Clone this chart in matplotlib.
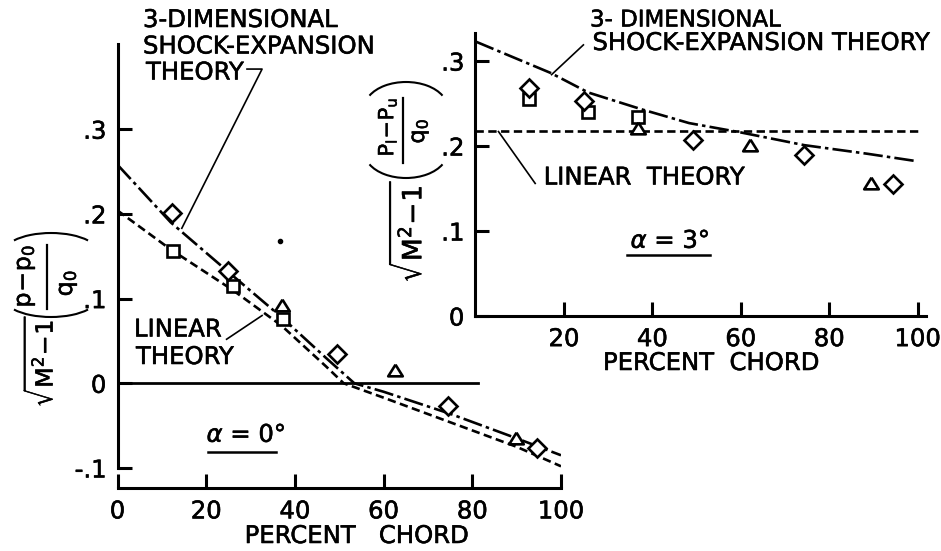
import matplotlib
matplotlib.use('Agg')
import matplotlib.pyplot as plt
import matplotlib.patheffects as pe
from matplotlib.patches import Arc

W, H = 941, 551
plt.rcParams['font.family'] = ['DejaVu Sans']
plt.rcParams['mathtext.fontset'] = 'dejavusans'
plt.rcParams['lines.scale_dashes'] = False

# ---------------- data: alpha = 0 deg (left panel) ----------------
l_shock_x = [0, 12, 26, 37, 47, 53.4, 60, 75, 90, 100]
l_shock_y = [0.258, 0.190, 0.127, 0.078, 0.030, 0.0, -0.010, -0.036, -0.065, -0.085]
l_lin_x = [0, 12, 26, 37, 47, 51, 60, 75, 90, 100]
l_lin_y = [0.204, 0.158, 0.110, 0.068, 0.020, 0.0, -0.017, -0.046, -0.075, -0.098]
l_dia_x = [12.3, 24.9, 49.6, 74.6, 94.6]
l_dia_y = [0.201, 0.132, 0.034, -0.027, -0.077]
l_sq_x = [12.5, 26.0, 37.3]
l_sq_y = [0.156, 0.115, 0.076]
l_tri_x = [37.1, 62.5, 89.8]
l_tri_y = [0.093, 0.016, -0.065]

# ---------------- data: alpha = 3 deg (right panel) ----------------
r_shock_x = [0, 17, 25.5, 37.7, 48.3, 60, 74.4, 88.5, 100]
r_shock_y = [0.323, 0.286, 0.263, 0.243, 0.227, 0.216, 0.201, 0.191, 0.182]
r_lin_x = [0, 100]
r_lin_y = [0.218, 0.218]
r_dia_x = [12.0, 24.6, 49.3, 74.4, 94.4]
r_dia_y = [0.268, 0.253, 0.207, 0.189, 0.155]
r_sq_x = [12.0, 25.5, 36.8]
r_sq_y = [0.255, 0.240, 0.234]
r_tri_x = [36.8, 62.1, 89.4]
r_tri_y = [0.221, 0.201, 0.156]

l_xticks = [0, 20, 40, 60, 80, 100]
l_yticks = [-0.1, 0, 0.1, 0.2, 0.3]
l_ytick_labels = ['-.1', '0', '.1', '.2', '.3']
r_xticks = [20, 40, 60, 80, 100]
r_yticks = [0, 0.1, 0.2, 0.3]
r_ytick_labels = ['0', '.1', '.2', '.3']

FS = 17.5
LW_AX = 2.2
LW = 1.9
tri = [(0, 0.8), (-1, -0.8), (1, -0.8), (0, 0.8)]
BOLD = [pe.withStroke(linewidth=0.4, foreground='black')]

fig = plt.figure(figsize=(W / 100, H / 100), dpi=100)


def fx(px):
    return px / W


def fy(py):
    return 1 - py / H


axL = fig.add_axes([fx(117.5), fy(488.3), 443.5 / W, (488.3 - 44.5) / H])
axR = fig.add_axes([fx(475.5), fy(316), 451 / W, 283 / H])

for ax in (axL, axR):
    ax.patch.set_alpha(0)
    for s in ('top', 'right'):
        ax.spines[s].set_visible(False)
    for s in ('left', 'bottom'):
        ax.spines[s].set_linewidth(LW_AX)
    ax.tick_params(direction='in', length=10, width=LW_AX, labelsize=FS, pad=8)


def draw(ax, sx, sy, lx, ly, dx, dy, qx, qy, tx, ty):
    ax.plot(lx, ly, color='black', lw=LW, dashes=(6, 3.2), zorder=2)
    ax.plot(sx, sy, color='black', lw=LW, dashes=(14, 3, 2.5, 3), zorder=2)
    mk = dict(linestyle='none', mfc='white', mec='black', mew=1.9, zorder=3)
    ax.plot(qx, qy, marker='s', ms=8, **mk)
    ax.plot(dx, dy, marker='D', ms=9, **mk)
    ax.plot(tx, ty, marker=tri, ms=10.5, **mk)


# ---- left panel
draw(axL, l_shock_x, l_shock_y, l_lin_x, l_lin_y, l_dia_x, l_dia_y,
     l_sq_x, l_sq_y, l_tri_x, l_tri_y)
axL.set_xlim(0, 100)
axL.set_ylim(-0.124, 0.40)
axL.spines['left'].set_bounds(-0.1, 0.40)
axL.set_xticks(l_xticks)
axL.set_yticks(l_yticks)
axL.set_yticklabels(l_ytick_labels)
axL.plot([0, 81.3], [0, 0], color='black', lw=LW_AX * 0.9, zorder=2)
axL.plot([36.6], [0.168], marker='o', ms=3, color='black', linestyle='none')

# leader lines (left)
axL.plot([29.2, 32.6, 14.5], [0.371, 0.371, 0.183], color='black', lw=1.2)
axL.plot([24.6, 32.6], [0.052, 0.080], color='black', lw=1.2)

# ---- right panel
draw(axR, r_shock_x, r_shock_y, r_lin_x, r_lin_y, r_dia_x, r_dia_y,
     r_sq_x, r_sq_y, r_tri_x, r_tri_y)
axR.set_xlim(0, 102)
axR.set_ylim(0, 0.333)
axR.set_xticks(r_xticks)
axR.set_yticks(r_yticks)
axR.set_yticklabels(r_ytick_labels)
axR.plot([24.4, 17.2], [0.319, 0.284], color='black', lw=1.2)
axR.plot([13.5, 5.2], [0.156, 0.217], color='black', lw=1.2)

for ax in (axL, axR):
    for lab in ax.get_xticklabels() + ax.get_yticklabels():
        lab.set_path_effects(BOLD)


# ---- texts (figure pixel positions)
def txt(xp, yp, s, ha='left', va='center', **kw):
    fig.text(fx(xp), fy(yp), s, ha=ha, va=va, fontsize=kw.pop('fs', FS),
             path_effects=BOLD, **kw)


def hline(x0, x1, y, lw=1.8):
    fig.add_artist(plt.Line2D([fx(x0), fx(x1)], [fy(y), fy(y)], color='black', lw=lw))


def vline(x, y0, y1, lw=1.6):
    fig.add_artist(plt.Line2D([fx(x), fx(x)], [fy(y0), fy(y1)], color='black', lw=lw))


def arc(cx, cy, w, h, t1, t2):
    fig.add_artist(Arc((fx(cx), fy(cy)), w / W, h / H, theta1=t1, theta2=t2,
                       transform=fig.transFigure, color='black', lw=1.5))


txt(143, 20, '3-DIMENSIONAL')
txt(143, 46.5, 'SHOCK-EXPANSION')
txt(146, 72.5, 'THEORY')
txt(134, 329.5, 'LINEAR')
txt(136, 357, 'THEORY')
txt(246, 435, r'$\alpha$ = 0°', ha='center')
hline(208, 276, 452)
txt(356.5, 536, 'PERCENT   CHORD', ha='center')

txt(590, 20, '3- DIMENSIONAL', fs=16.5)
txt(761, 43, 'SHOCK-EXPANSION THEORY', ha='center')
txt(644, 177.5, 'LINEAR  THEORY', ha='center')
txt(670, 241, r'$\alpha$ = 3°', ha='center')
hline(627, 710, 255)
txt(711, 363, 'PERCENT  CHORD', ha='center')

# left y label: sqrt(M^2-1) ( (p-p0)/q0 ), rotated
txt(40, 361, r'$\sqrt{\mathrm{M^2\!-\!1}}$', ha='center', rotation=90, fs=17)
txt(25, 276, r'$\mathrm{p\!-\!p_0}$', ha='center', rotation=90, fs=17)
vline(47, 245, 309)
txt(67, 283, r'$\mathrm{q_0}$', ha='center', rotation=90, fs=17)
arc(51, 253, 95, 40, 30, 150)
arc(51, 297, 95, 40, 210, 330)

# right y label: sqrt(M^2-1) ( (Pl-Pu)/q0 ), rotated
txt(408, 231, r'$\sqrt{\mathrm{M^2\!-\!1}}$', ha='center', rotation=90, fs=19)
txt(387, 127, r'$\mathrm{P_l\!-\!P_u}$', ha='center', rotation=90, fs=15)
vline(403, 98, 163)
txt(420, 131, r'$\mathrm{q_0}$', ha='center', rotation=90, fs=16)
arc(406, 108, 83, 52, 30, 150)
arc(406, 152, 83, 52, 210, 330)

fig.savefig('out.png', dpi=100)
